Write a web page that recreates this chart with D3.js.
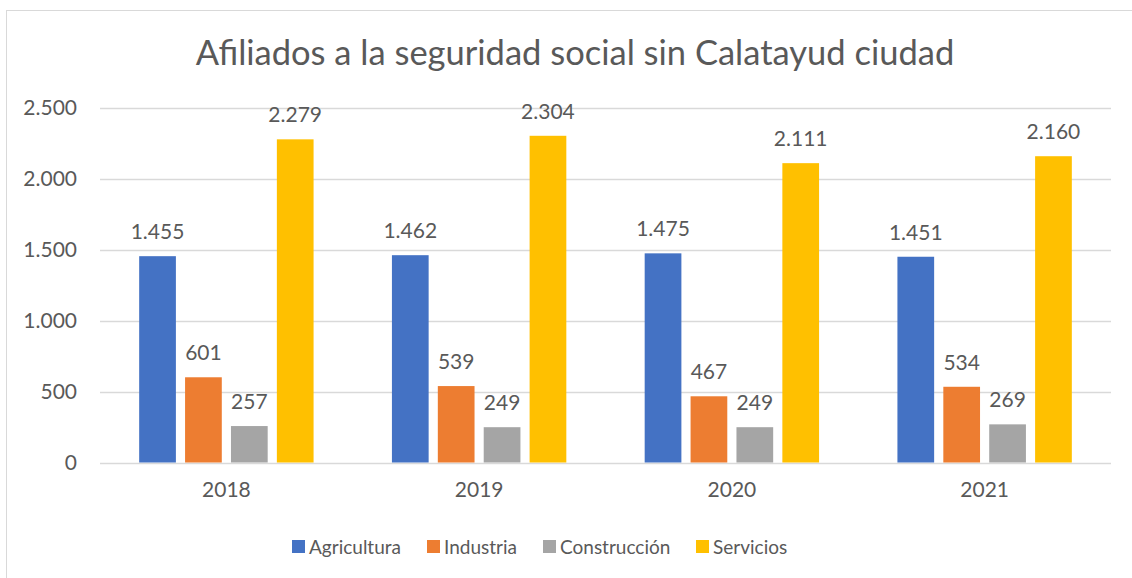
<!DOCTYPE html>
<html>
<head>
<meta charset="utf-8">
<script src="https://cdn.jsdelivr.net/npm/d3@7"></script>
<style>
  body { margin: 0; background: #fff; }
  svg text { font-family: Lato, "Open Sans", sans-serif; fill: #595959; }
</style>
</head>
<body>
<svg width="1132" height="578"></svg>
<script>
var years = ["2018", "2019", "2020", "2021"];
var series = ["Agricultura", "Industria", "Construcción", "Servicios"];
var colors = ["#4472C4", "#ED7D31", "#A5A5A5", "#FFC000"];
var agricultura = [1455, 1462, 1475, 1451];
var industria = [601, 539, 467, 534];
var construccion = [257, 249, 249, 269];
var servicios = [2279, 2304, 2111, 2160];
var yTicks = [0, 500, 1000, 1500, 2000, 2500];

var values = [agricultura, industria, construccion, servicios];

var svg = d3.select("svg"),
    width = +svg.attr("width"),
    height = +svg.attr("height");

var fmt = function(v) { return d3.format(",")(v).replace(/,/g, "."); };

// chart border (only left / top visible in original)
svg.append("rect")
    .attr("x", 6.5).attr("y", 10.5)
    .attr("width", 1140).attr("height", 600)
    .attr("fill", "none")
    .attr("stroke", "#d9d9d9");

svg.append("text")
    .attr("x", 575).attr("y", 65)
    .attr("text-anchor", "middle")
    .style("font-size", "34.5px")
    .text("Afiliados a la seguridad social sin Calatayud ciudad");

var plotLeft = 100, plotRight = 1111, plotTop = 108, plotBottom = 462.5;

var x0 = d3.scaleBand().domain(years).range([plotLeft, plotRight])
    .paddingInner(0.31).paddingOuter(0.155);
var x1 = d3.scaleBand().domain(series).range([0, x0.bandwidth()])
    .paddingInner(0.2);
var y = d3.scaleLinear().domain([0, 2500]).range([plotBottom, plotTop]);

// gridlines
svg.append("g").selectAll("line")
    .data(yTicks)
    .enter().append("line")
    .attr("x1", plotLeft).attr("x2", plotRight)
    .attr("y1", function(d) { return Math.round(y(d)) + 0.5; })
    .attr("y2", function(d) { return Math.round(y(d)) + 0.5; })
    .attr("stroke", "#d9d9d9")
    .attr("stroke-width", 1.5);

// y axis labels
var yAxis = svg.append("g")
    .attr("transform", "translate(" + (plotLeft - 23) + ",0)")
    .call(d3.axisLeft(y).tickValues(yTicks).tickFormat(fmt).tickSize(0).tickPadding(0));
yAxis.select(".domain").remove();
yAxis.selectAll("text").style("font-size", "21px").attr("fill", "#595959");

// x axis labels
var xAxis = svg.append("g")
    .attr("transform", "translate(0," + plotBottom + ")")
    .call(d3.axisBottom(x0).tickSize(0).tickPadding(20));
xAxis.select(".domain").remove();
xAxis.selectAll("text").style("font-size", "21px").attr("fill", "#595959");

// bars
var groups = svg.append("g").selectAll("g")
    .data(years)
    .enter().append("g")
    .attr("transform", function(d) { return "translate(" + x0(d) + ",0)"; });

function rows(d, i) {
    return series.map(function(s, j) { return {s: s, j: j, v: values[j][i]}; });
}

groups.selectAll("rect")
    .data(rows)
    .enter().append("rect")
    .attr("x", function(d) { return x1(d.s); })
    .attr("y", function(d) { return y(d.v); })
    .attr("width", x1.bandwidth())
    .attr("height", function(d) { return y(0) - y(d.v); })
    .attr("fill", function(d) { return colors[d.j]; });

groups.selectAll("text.val")
    .data(rows)
    .enter().append("text")
    .attr("class", "val")
    .attr("x", function(d) { return x1(d.s) + x1.bandwidth() / 2; })
    .attr("y", function(d) { return y(d.v) - 17; })
    .attr("text-anchor", "middle")
    .style("font-size", "21px")
    .text(function(d) { return fmt(d.v); });

// legend
var legendX = [292, 427, 543, 696];
var legend = svg.append("g").selectAll("g")
    .data(series)
    .enter().append("g")
    .attr("transform", function(d, i) { return "translate(" + legendX[i] + ",540)"; });
legend.append("rect")
    .attr("width", 13).attr("height", 13)
    .attr("fill", function(d, i) { return colors[i]; });
legend.append("text")
    .attr("x", 17).attr("y", 14)
    .style("font-size", "19px")
    .text(function(d) { return d; });
</script>
</body>
</html>
